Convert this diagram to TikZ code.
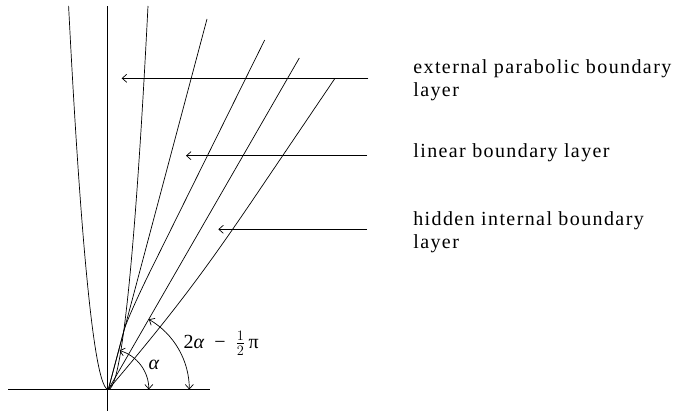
\documentclass[tikz,border=0pt]{standalone}
\usepackage{fontspec}
\setmainfont{Liberation Serif}
\newfontfamily\lbl[LetterSpace=7]{Liberation Serif}
\usetikzlibrary{arrows.meta}
\begin{document}
\begin{tikzpicture}[x=1pt,y=1pt, line width=0.7pt,
  tip/.style={-{Straight Barb[length=4.5pt,width=8pt]}},
  dtip/.style={{Straight Barb[length=4.5pt,width=8pt]}-{Straight Barb[length=4.5pt,width=8pt]}},
  lab/.style={anchor=base west, inner sep=0pt, font=\fontsize{20}{24}\lbl},
  mlab/.style={inner sep=0pt, font=\fontsize{20}{24}\selectfont}]
\useasboundingbox (0,0) rectangle (675,411);
% axes
\coordinate (O) at (108.3,21.5);
\coordinate (hl) at (8.3,21.5);
\coordinate (hr) at (210,21.5);
\coordinate (vb) at (107.8,0);
\coordinate (vt) at (107.8,405);
\draw (hl) -- (hr);
\draw (vb) -- (vt);
% parabola
\coordinate (pl) at (68.6,405);
\coordinate (pr) at (148,405);
\draw (pl) parabola bend (O) (pr);
% straight line at alpha
\coordinate (L1) at (207,392);
\draw (O) -- (L1);
% curved linear layer
\coordinate (LC) at (264.7,371);
\draw (LC) -- (150,139.3) .. controls (140,119) and (128,93) .. (124.2,81.5) -- (O);
% straight line at 2alpha - pi/2
\coordinate (LD) at (299.3,353);
\draw (O) -- (LD);
% hidden internal layer
\coordinate (LE) at (335,332.7);
\draw (LE) -- (250,207) .. controls (205,141) and (175,100) .. (O);
% arrows
\coordinate (a1s) at (368.3,332.7);
\coordinate (a1e) at (121.7,332.7);
\coordinate (a2s) at (367,255.3);
\coordinate (a2e) at (186,255.3);
\coordinate (a3s) at (367,181.7);
\coordinate (a3e) at (218.3,181.7);
\draw[tip] (a1s) -- (a1e);
\draw[tip] (a2s) -- (a2e);
\draw[tip] (a3s) -- (a3e);
% angle arcs
\draw[dtip] ([shift={(0:40.5)}]O) arc[start angle=0,end angle=74,radius=40.5];
\draw[dtip] ([shift={(0:81)}]O) arc[start angle=0,end angle=60,radius=81];
% labels
\node[lab] (t1a) at (413,337) {external parabolic boundary};
\node[lab] (t1b) at (413,314.3) {layer};
\node[lab] (t2) at (413,253.7) {linear boundary layer};
\node[lab] (t3a) at (413,185.3) {hidden internal boundary};
\node[lab] (t3b) at (413,162.7) {layer};
\node[mlab, anchor=base] (al) at (154,41) {\textit{α}};
\node[mlab, anchor=base west] (al2) at (183.3,62.7) {2\textit{α}\enspace−\enspace$\frac{1}{2}$\,π};
\end{tikzpicture}
\end{document}
